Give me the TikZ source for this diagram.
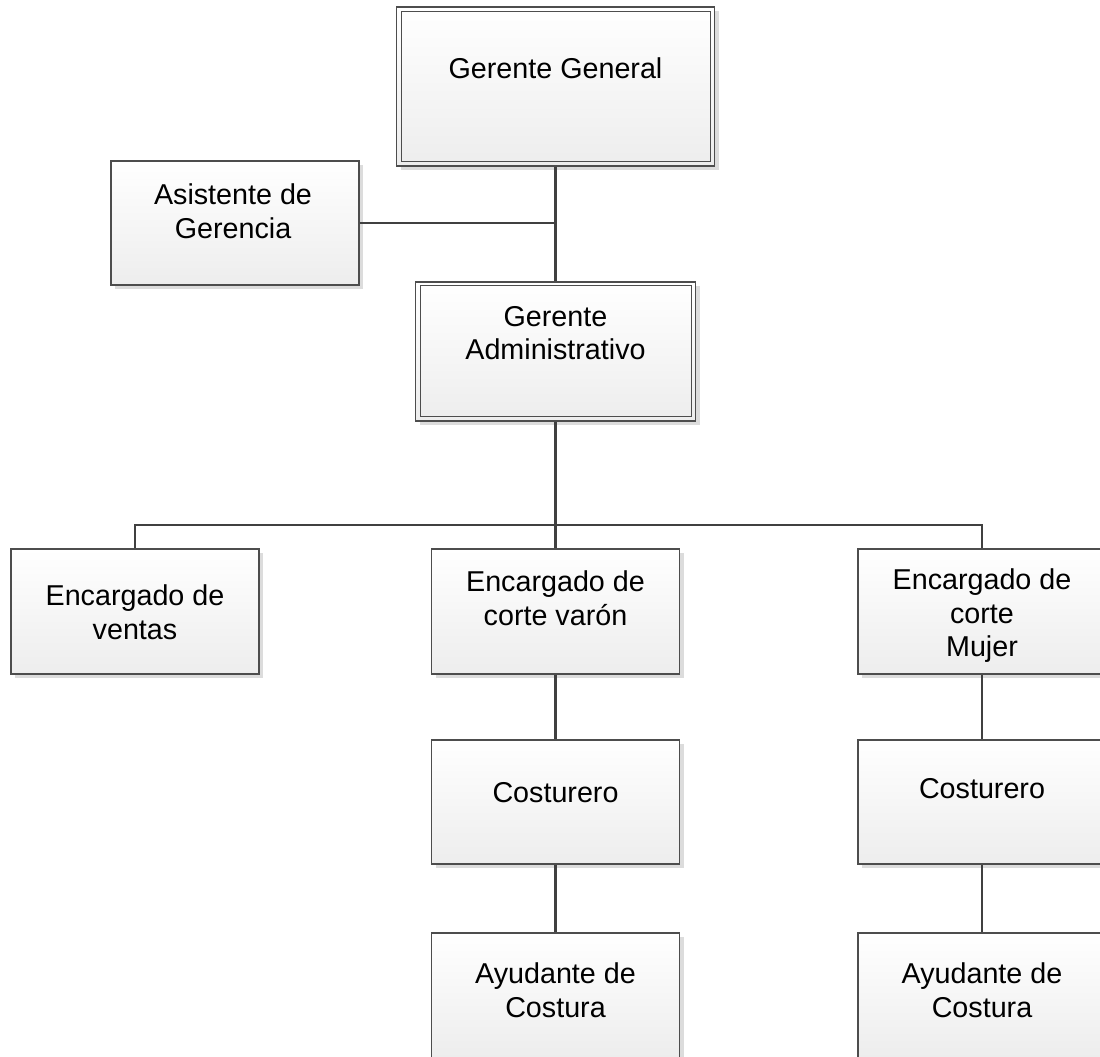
\documentclass[tikz,border=0pt]{standalone}
\usepackage{fontspec}
\setmainfont{Liberation Sans}
\usetikzlibrary{shadows}
\definecolor{bordercol}{HTML}{4D4D4D}
\definecolor{linecol}{HTML}{404040}
\definecolor{shadowcol}{HTML}{DCDCDC}
\definecolor{shadebot}{HTML}{EDEDED}
\begin{document}
\begin{tikzpicture}[x=1pt,y=-1pt,
  box/.style={draw=bordercol, line width=1.2pt, top color=white, bottom color=shadebot,
    minimum width=248pt, minimum height=124pt, inner sep=0pt,
    drop shadow={shadow xshift=4pt, shadow yshift=-4pt, fill=shadowcol, opacity=1}},
  inframe/.style={draw=bordercol, line width=1.1pt},
  lbl/.style={align=center, inner sep=0pt, font=\fontsize{28.7}{33.5}\selectfont},
  conn/.style={draw=linecol, line width=2.2pt}]
\useasboundingbox (0,0) rectangle (1100,1057);
% boxes
\node[box, minimum width=318pt, minimum height=159pt] (gg) at (555.5,86.5) {};
\draw[inframe] ([shift={(6pt,-5pt)}]gg.north west) rectangle ([shift={(-5pt,5pt)}]gg.south east);
\node[box] (asis) at (235,223) {};
\node[box, minimum width=280pt, minimum height=139pt] (ga) at (555.5,351.5) {};
\draw[inframe] ([shift={(6pt,-4pt)}]ga.north west) rectangle ([shift={(-5pt,5pt)}]ga.south east);
\node[box, minimum height=125pt] (ventas) at (135,611.5) {};
\node[box, minimum height=125pt] (varon) at (555.5,611.5) {};
\node[box, minimum height=125pt] (mujer) at (982,611.5) {};
\node[box] (cost1) at (555.5,802) {};
\node[box] (cost2) at (982,802) {};
\node[box, minimum height=125pt] (ayu1) at (555.5,995.5) {};
\node[box, minimum height=125pt] (ayu2) at (982,995.5) {};
% texts
\node[lbl] (gg-t) at (555.5,68) {Gerente General};
\node[lbl] (asis-t) at (233,211) {Asistente de\\Gerencia};
\node[lbl] (ga-t) at (555.5,333) {Gerente\\Administrativo};
\node[lbl] (ventas-t) at (135,612) {Encargado de\\ventas};
\node[lbl] (varon-t) at (555.5,598) {Encargado de\\corte varón};
\node[lbl] (mujer-t) at (982,616) {Encargado de\\corte\\ Mujer};
\node[lbl] (cost1-t) at (555.5,792.5) {Costurero};
\node[lbl] (cost2-t) at (982,789) {Costurero};
\node[lbl] (ayu1-t) at (555.5,990) {Ayudante de\\Costura};
\node[lbl] (ayu2-t) at (982,990) {Ayudante de\\Costura};
% connectors
\coordinate (bus) at (555.5,525);
\draw[conn] (gg.south) -- (ga.north);
\draw[conn] (asis.east) -- (asis.east -| gg.south);
\draw[conn] (ga.south) -- (bus);
\draw[conn] (ventas.north) |- (bus) -| (mujer.north);
\draw[conn] (bus) -- (varon.north);
\draw[conn] (varon.south) -- (cost1.north);
\draw[conn] (cost1.south) -- (ayu1.north);
\draw[conn] (mujer.south) -- (cost2.north);
\draw[conn] (cost2.south) -- (ayu2.north);
\end{tikzpicture}
\end{document}
